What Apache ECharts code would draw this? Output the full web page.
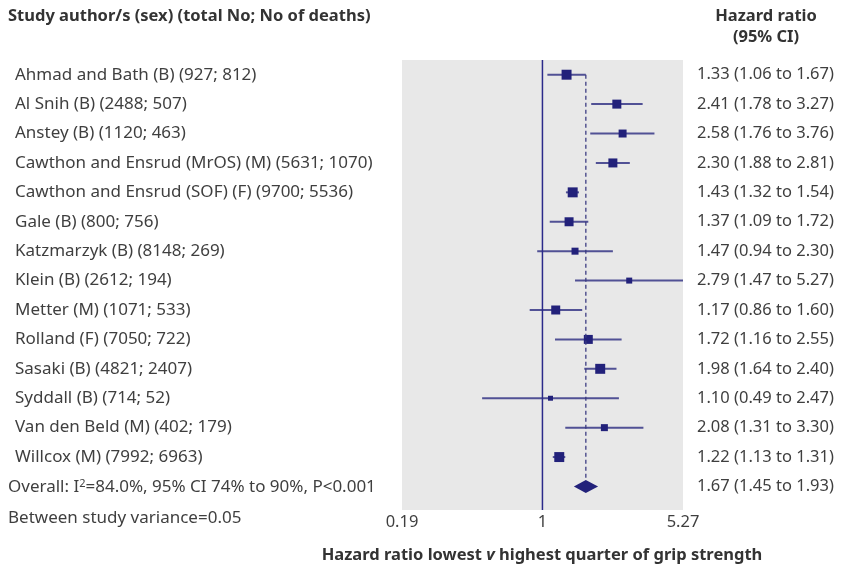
<!DOCTYPE html>
<html>
<head>
<meta charset="utf-8">
<script src="https://cdn.jsdelivr.net/npm/echarts@6/dist/echarts.min.js"></script>
<style>
  html, body { margin: 0; padding: 0; background: #fff; }
  #main { width: 848px; height: 568px; }
</style>
</head>
<body>
<div id="main"></div>
<script>
// study data
var studies = [
	'Ahmad and Bath (B) (927; 812)',
	'Al Snih (B) (2488; 507)',
	'Anstey (B) (1120; 463)',
	'Cawthon and Ensrud (MrOS) (M) (5631; 1070)',
	'Cawthon and Ensrud (SOF) (F) (9700; 5536)',
	'Gale (B) (800; 756)',
	'Katzmarzyk (B) (8148; 269)',
	'Klein (B) (2612; 194)',
	'Metter (M) (1071; 533)',
	'Rolland (F) (7050; 722)',
	'Sasaki (B) (4821; 2407)',
	'Syddall (B) (714; 52)',
	'Van den Beld (M) (402; 179)',
	'Willcox (M) (7992; 6963)'
];
var hr = [1.33, 2.41, 2.58, 2.30, 1.43, 1.37, 1.47, 2.79, 1.17, 1.72, 1.98, 1.10, 2.08, 1.22];
var lower = [1.06, 1.78, 1.76, 1.88, 1.32, 1.09, 0.94, 1.47, 0.86, 1.16, 1.64, 0.49, 1.31, 1.13];
var upper = [1.67, 3.27, 3.76, 2.81, 1.54, 1.72, 2.30, 5.27, 1.60, 2.55, 2.40, 2.47, 3.30, 1.31];
// estimated study weights (%), shown as box area
var weights = [9.7, 7.9, 6.2, 7.9, 9.7, 7.9, 4.8, 3.5, 7.9, 7.9, 9.7, 2.4, 4.8, 9.7];

var overall = { hr: 1.67, lower: 1.45, upper: 1.93 };
var xTicks = [0.19, 1, 5.27];

var navy = '#22217a';
var textColor = '#3f3f3f';
var headColor = '#333';
var font = 'Noto Sans';

var myChart = echarts.init(document.getElementById('main'));

var studyData = [];
for (var i = 0; i < hr.length; i++) {
	studyData.push([Math.log(hr[i]), Math.log(lower[i]), Math.log(upper[i]), i, weights[i]]);
}
var overallRow = studies.length;

var hrLabels = [];
for (var i = 0; i < hr.length; i++) {
	hrLabels.push(hr[i].toFixed(2) + ' (' + lower[i].toFixed(2) + ' to ' + upper[i].toFixed(2) + ')');
}
hrLabels.push(overall.hr.toFixed(2) + ' (' + overall.lower.toFixed(2) + ' to ' + overall.upper.toFixed(2) + ')');

var rowValues = [];
for (var i = 0; i <= overallRow; i++) rowValues.push(i);

function renderStudy(params, api) {
	var y = api.value(3);
	var a = api.coord([api.value(1), y]);
	var b = api.coord([api.value(2), y]);
	var c = api.coord([api.value(0), y]);
	var s = Math.sqrt(api.value(4)) * 3.2;
	return {
		type: 'group',
		children: [{
			type: 'line',
			shape: { x1: a[0], y1: a[1], x2: b[0], y2: b[1] },
			style: { stroke: '#2b2a7f', lineWidth: 2, opacity: 0.8 }
		}, {
			type: 'rect',
			shape: { x: c[0] - s / 2, y: c[1] - s / 2, width: s, height: s },
			style: { fill: navy }
		}]
	};
}

function renderDiamond(params, api) {
	var y = api.value(3);
	var l = api.coord([api.value(1), y]);
	var r = api.coord([api.value(2), y]);
	var c = api.coord([api.value(0), y]);
	return {
		type: 'polygon',
		shape: { points: [[l[0], c[1]], [c[0], c[1] - 6.5], [r[0], c[1]], [c[0], c[1] + 6.5]] },
		style: { fill: navy }
	};
}

var option = {
	animation: false,
	backgroundColor: '#fff',
	textStyle: { fontFamily: font },
	grid: {
		left: 402,
		right: 165,
		top: 60,
		bottom: 58,
		show: true,
		backgroundColor: '#e8e8e8',
		borderWidth: 0
	},
	xAxis: {
		type: 'value',
		min: Math.log(0.19),
		max: Math.log(5.27),
		axisLine: { show: false },
		axisTick: { show: false },
		splitLine: { show: false },
		axisLabel: {
			customValues: xTicks.map(function(v) { return Math.log(v); }),
			formatter: function(v) {
				var e = Math.exp(v);
				return Math.abs(e - 1) < 1e-6 ? '1' : e.toFixed(2);
			},
			fontSize: 16.5,
			color: textColor,
			fontFamily: font,
			margin: 4
		}
	},
	yAxis: [{
		type: 'value',
		inverse: true,
		min: -0.5,
		max: 14.8,
		axisLine: { show: false },
		axisTick: { show: false },
		splitLine: { show: false },
		axisLabel: {
			customValues: rowValues.slice(0, overallRow),
			formatter: function(v) { return studies[v]; },
			align: 'left',
			margin: 387,
			fontSize: 17,
			color: textColor,
			fontFamily: font
		}
	}, {
		type: 'value',
		inverse: true,
		position: 'right',
		min: -0.5,
		max: 14.8,
		axisLine: { show: false },
		axisTick: { show: false },
		splitLine: { show: false },
		axisLabel: {
			customValues: rowValues,
			formatter: function(v) { return hrLabels[v]; },
			align: 'left',
			margin: 14,
			fontSize: 16.5,
			color: textColor,
			fontFamily: font
		}
	}],
	graphic: [{
		type: 'text',
		x: 8,
		y: 16,
		style: { text: 'Study author/s (sex) (total No; No of deaths)', verticalAlign: 'middle', fontSize: 16.5, fontWeight: 'bold', fill: headColor, fontFamily: font }
	}, {
		type: 'text',
		x: 766,
		y: 27,
		style: { text: 'Hazard ratio\n(95% CI)', align: 'center', verticalAlign: 'middle', lineHeight: 21, fontSize: 16.5, fontWeight: 'bold', fill: headColor, fontFamily: font }
	}, {
		type: 'text',
		x: 8,
		y: 487,
		style: {
			text: 'Overall: I{sup|2}=84.0%, 95% CI 74% to 90%, P<0.001',
			verticalAlign: 'middle',
			fontSize: 17,
			fill: textColor,
			fontFamily: font,
			rich: { sup: { fontSize: 11, verticalAlign: 'top', padding: [0, 0, 7, 0], fill: textColor, fontFamily: font } }
		}
	}, {
		type: 'text',
		x: 8,
		y: 518,
		style: { text: 'Between study variance=0.05', verticalAlign: 'middle', fontSize: 17, fill: textColor, fontFamily: font }
	}, {
		type: 'text',
		x: 542,
		y: 555,
		style: {
			text: '{b|Hazard ratio lowest }{i|v}{b| highest quarter of grip strength}',
			align: 'center',
			verticalAlign: 'middle',
			rich: {
				b: { fontSize: 16.5, fontWeight: 'bold', fill: headColor, fontFamily: font },
				i: { fontSize: 16.5, fontWeight: 'bold', fontStyle: 'italic', fill: headColor, fontFamily: font }
			}
		}
	}],
	series: [{
		// line of no effect
		type: 'line',
		data: [[0, -0.5], [0, 14.8]],
		symbol: 'none',
		lineStyle: { color: '#2b2a8a', width: 1.5 },
		silent: true
	}, {
		// pooled estimate
		type: 'line',
		data: [[Math.log(overall.hr), 0], [Math.log(overall.hr), overallRow - 0.22]],
		symbol: 'none',
		lineStyle: { color: '#3a3a80', width: 1.5, type: [4, 3], opacity: 0.85 },
		silent: true
	}, {
		type: 'custom',
		renderItem: renderStudy,
		data: studyData,
		silent: true
	}, {
		type: 'custom',
		renderItem: renderDiamond,
		data: [[Math.log(overall.hr), Math.log(overall.lower), Math.log(overall.upper), overallRow]],
		silent: true
	}]
};

myChart.setOption(option);
</script>
</body>
</html>
